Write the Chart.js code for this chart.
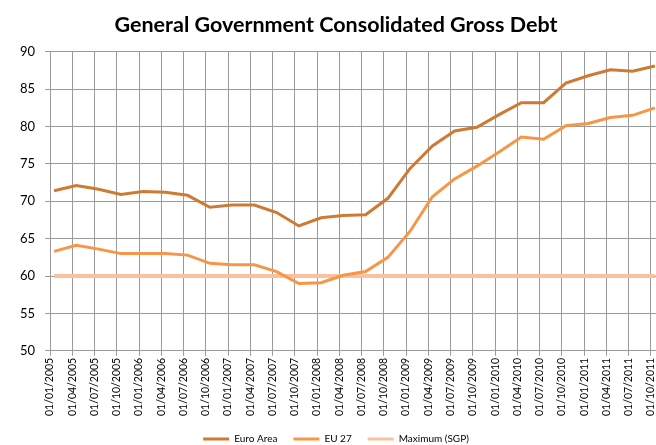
<!DOCTYPE html>
<html>
<head>
<meta charset="utf-8">
<script src="https://cdn.jsdelivr.net/npm/chart.js@4"></script>
<style>
html,body{margin:0;padding:0;background:#fff;overflow:hidden;}
#wrap{position:relative;width:679px;height:454px;}
</style>
</head>
<body>
<div id="wrap"><canvas id="c" width="679" height="454"></canvas></div>
<script>
const dateLabels = [
  "01/01/2005","01/04/2005","01/07/2005","01/10/2005",
  "01/01/2006","01/04/2006","01/07/2006","01/10/2006",
  "01/01/2007","01/04/2007","01/07/2007","01/10/2007",
  "01/01/2008","01/04/2008","01/07/2008","01/10/2008",
  "01/01/2009","01/04/2009","01/07/2009","01/10/2009",
  "01/01/2010","01/04/2010","01/07/2010","01/10/2010",
  "01/01/2011","01/04/2011","01/07/2011","01/10/2011"
];
const euroArea = [71.4,72.1,71.6,70.9,71.3,71.2,70.8,69.2,69.5,69.5,68.5,66.7,67.8,68.1,68.2,70.4,74.4,77.4,79.4,79.9,81.6,83.2,83.2,85.8,86.8,87.6,87.4,88.1];
const eu27 = [63.3,64.1,63.6,63.0,63.0,63.0,62.8,61.7,61.5,61.5,60.6,59.0,59.1,60.1,60.6,62.5,66.0,70.6,73.0,74.7,76.6,78.6,78.3,80.1,80.4,81.2,81.5,82.5];
const maxSGP = [60,60,60,60,60,60,60,60,60,60,60,60,60,60,60,60,60,60,60,60,60,60,60,60,60,60,60,60];
const yTicks = [50,55,60,65,70,75,80,85,90];

const SHIFT = 0.18; // data points sit slightly right of the quarter gridlines
const toXY = arr => arr.map((v,i)=>({x:i+SHIFT,y:v}));

const FONT = "Lato, 'Open Sans', 'Liberation Sans', sans-serif";

new Chart(document.getElementById('c'), {
  type: 'line',
  data: {
    datasets: [
      {label:'Euro Area', data: toXY(euroArea), borderColor:'#CF7A33', backgroundColor:'#CF7A33', borderWidth:3, pointRadius:0, tension:0},
      {label:'EU 27', data: toXY(eu27), borderColor:'#F79646', backgroundColor:'#F79646', borderWidth:3, pointRadius:0, tension:0},
      {label:'Maximum (SGP)', data: toXY(maxSGP), borderColor:'#FBC0A0', backgroundColor:'#FBC0A0', borderWidth:4, pointRadius:0, tension:0}
    ]
  },
  options: {
    responsive:false,
    animation:false,
    devicePixelRatio:1,
    layout:{padding:{left:10,right:17,top:0,bottom:0}},
    plugins:{
      title:{display:true,text:'General Government Consolidated Gross Debt',color:'#000',
        font:{family:FONT,size:21.5,weight:'bold'},padding:{top:12,bottom:14}},
      legend:{position:'bottom',
        labels:{color:'#000',font:{family:FONT,size:10},boxWidth:26,boxHeight:3,padding:16,
          generateLabels:(chart)=>Chart.defaults.plugins.legend.labels.generateLabels(chart).map(l=>Object.assign(l,{lineWidth:0,fillStyle:l.strokeStyle}))}},
      tooltip:{enabled:false}
    },
    scales:{
      x:{type:'linear',min:0,max:27.5,
        grid:{color:'#9a9a9a',lineWidth:1,tickLength:5,drawTicks:true},
        border:{color:'#9a9a9a'},
        afterBuildTicks:(s)=>{s.ticks = dateLabels.map((_,i)=>({value:i}));},
        ticks:{autoSkip:false,minRotation:90,maxRotation:90,padding:2,labelOffset:0,color:'#000',
          font:{family:FONT,size:10.5},
          callback:(v)=>dateLabels[v] ?? ''}
      },
      y:{min:50,max:90,
        afterBuildTicks:(s)=>{s.ticks = yTicks.map(v=>({value:v}));},
        grid:{color:'#9a9a9a',lineWidth:1,tickLength:5},
        border:{color:'#9a9a9a'},
        ticks:{color:'#000',font:{family:FONT,size:13},padding:10}
      }
    }
  }
});
</script>
</body>
</html>
